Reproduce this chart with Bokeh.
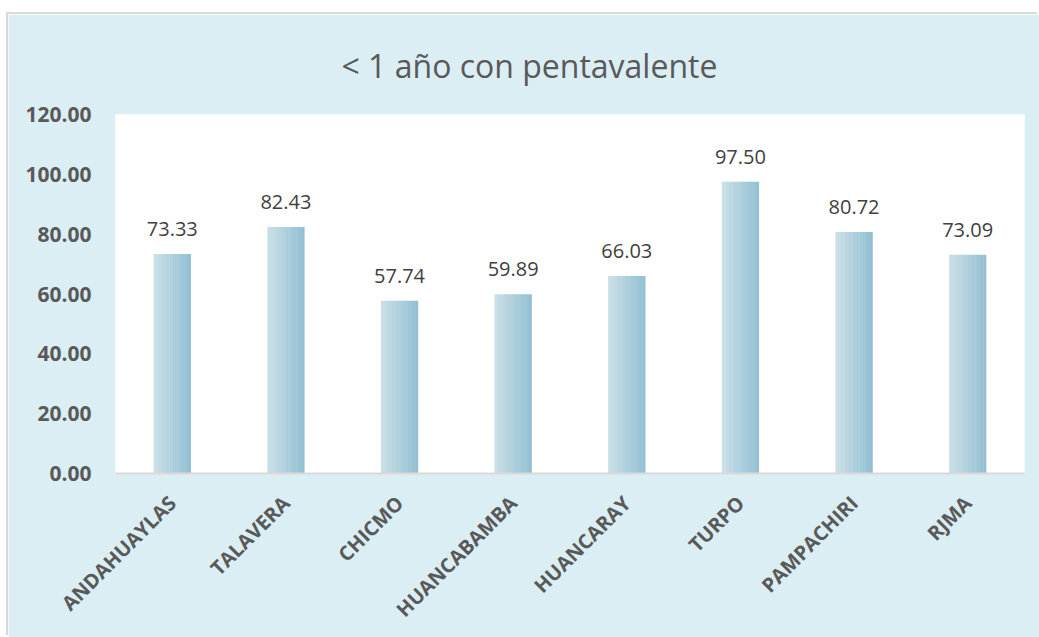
from bokeh.plotting import figure
from bokeh.models import ColumnDataSource, LabelSet, FixedTicker, NumeralTickFormatter, Range1d
from bokeh.transform import dodge
from bokeh.core.properties import value
from bokeh.embed import file_html
from bokeh.resources import INLINE
import math

categories = ["ANDAHUAYLAS", "TALAVERA", "CHICMO", "HUANCABAMBA", "HUANCARAY", "TURPO", "PAMPACHIRI", "RJMA"]
values = [73.33, 82.43, 57.74, 59.89, 66.03, 97.50, 80.72, 73.09]
y_ticks = [0, 20, 40, 60, 80, 100, 120]
title_text = "< 1 año con pentavalente"

src = ColumnDataSource(dict(cat=categories, val=values, txt=[f"{v:.2f}" for v in values]))

p = figure(x_range=categories, y_range=Range1d(0, 120), width=1031, height=623,
           output_backend="svg", toolbar_location=None,
           min_border_left=107, min_border_right=15, min_border_top=99, min_border_bottom=164)
p.margin = (14, 0, 0, 8)
p.styles = {"box-shadow": "-2px -2px 0 #D9D9D9"}
p.background_fill_color = "white"
p.border_fill_color = "#DAEEF3"
p.outline_line_color = None

p.title.text = title_text
p.title.align = "left"
p.title.offset = 226
p.title.text_font = "Open Sans"
p.title.text_font_style = "normal"
p.title.text_font_size = "32px"
p.title.text_line_height = 1.0
p.title.text_color = "#595959"
p.title.standoff = 55

# gradient bars built from thin slices
bar_w = 0.325
n = 14
c0 = (201, 223, 231)
c1 = (148, 192, 211)
sw = bar_w / n
for i in range(n):
    t = i / (n - 1)
    col = "#%02x%02x%02x" % tuple(int(round(a + (b - a) * t)) for a, b in zip(c0, c1))
    off = -bar_w / 2 + (i + 0.5) * sw
    p.vbar(x=dodge("cat", off, range=p.x_range), top="val", width=sw * 1.15, bottom=0,
           source=src, fill_color=col, line_color=None)

labels = LabelSet(x="cat", y="val", text="txt", source=src, y_offset=18,
                  text_align="center", text_baseline="alphabetic",
                  text_font=value("Open Sans"), text_font_size="20px", text_color="#404040")
p.add_layout(labels)

p.xgrid.visible = False
p.ygrid.visible = False

p.yaxis.ticker = FixedTicker(ticks=y_ticks)
p.yaxis.formatter = NumeralTickFormatter(format="0.00")
p.yaxis.axis_line_color = None
p.yaxis.major_tick_line_color = None
p.yaxis.minor_tick_line_color = None
p.yaxis.major_label_text_font = "Open Sans"
p.yaxis.major_label_text_font_style = "bold"
p.yaxis.major_label_text_font_size = "21px"
p.yaxis.major_label_text_color = "#595959"
p.yaxis.major_label_standoff = 18

p.xaxis.axis_line_color = "#D9D9D9"
p.xaxis.axis_line_width = 2
p.xaxis.major_tick_line_color = None
p.xaxis.minor_tick_line_color = None
p.xaxis.major_label_orientation = math.pi / 4
p.xaxis.major_label_text_font = "Open Sans"
p.xaxis.major_label_text_font_style = "bold"
p.xaxis.major_label_text_font_size = "20px"
p.xaxis.major_label_text_color = "#595959"
p.xaxis.major_label_standoff = 20

open("out.html", "w").write(file_html(p, INLINE))
